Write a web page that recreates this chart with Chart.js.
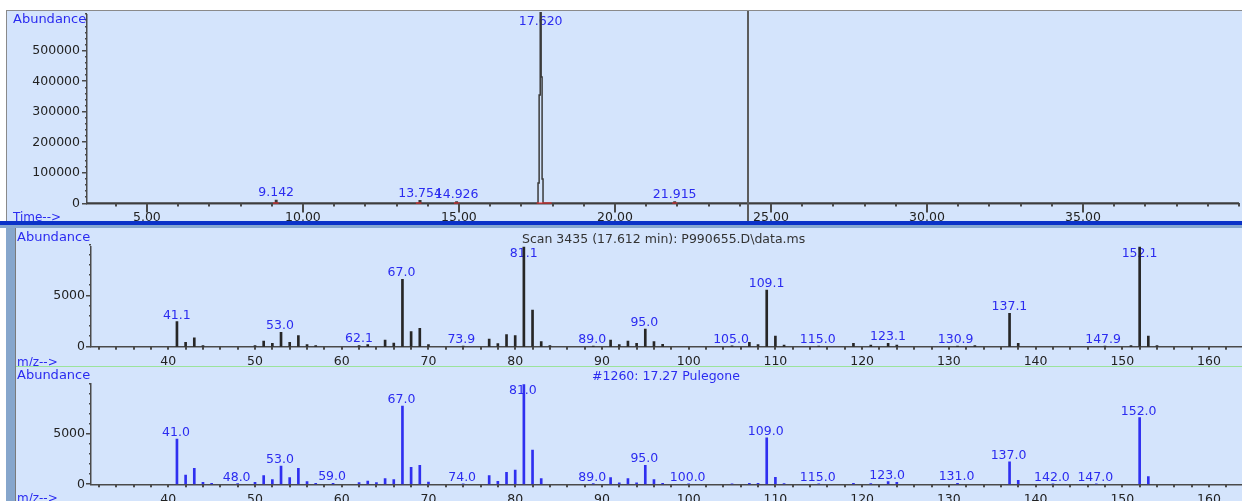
<!DOCTYPE html>
<html>
<head>
<meta charset="utf-8">
<script src="https://cdn.jsdelivr.net/npm/chart.js@4.4.1/dist/chart.umd.min.js"></script>
<style>
  body { margin: 0; width: 1242px; height: 501px; overflow: hidden; background: #fff; position: relative; font-family: "DejaVu Sans", sans-serif; }
  .panel { position: absolute; background: #d4e4fc; overflow: hidden; }
  .panel canvas { position: absolute; left: 0; top: 0; }
  .txt { position: absolute; white-space: nowrap; line-height: 1; color: #2b2bf0; font-size: 12px; }
  .abund { font-size: 13px; }
  #p1 { left: 6px; top: 10px; width: 1236px; height: 210px; border-top: 1px solid #8a8a8a; border-left: 1px solid #8a8a8a; }
  #bar1 { position: absolute; left: 0; top: 221px; width: 1242px; height: 4px; background: #0a32c8; }
  #bar2 { position: absolute; left: 0; top: 225px; width: 1242px; height: 3px; background: #86a8d0; }
  #strip { position: absolute; left: 6px; top: 228px; width: 9px; height: 273px; background: #86a6cc; border-right: 1px solid #7a7a7a; }
  #p2 { left: 16px; top: 228px; width: 1226px; height: 138px; }
  #green { position: absolute; left: 16px; top: 366px; width: 1226px; height: 1px; background: #9be39b; }
  #p3 { left: 16px; top: 367px; width: 1226px; height: 134px; }
</style>
</head>
<body>
<div class="panel" id="p1">
  <canvas id="tic" width="1235" height="210"></canvas>
  <div class="txt abund" style="left:6px;top:1px">Abundance</div>
  <div class="txt" style="left:6px;top:200px">Time--&gt;</div>
</div>
<div id="bar1"></div>
<div id="bar2"></div>
<div id="strip"></div>
<div class="panel" id="p2">
  <canvas id="scan" width="1226" height="138"></canvas>
  <div class="txt abund" style="left:1px;top:2px">Abundance</div>
  <div class="txt" style="left:1px;top:128px">m/z--&gt;</div>
  <div class="txt" style="left:506px;top:5px;color:#333;font-size:12.5px">Scan 3435 (17.612 min): P990655.D\data.ms</div>
</div>
<div id="green"></div>
<div class="panel" id="p3">
  <canvas id="lib" width="1226" height="134"></canvas>
  <div class="txt abund" style="left:1px;top:1px">Abundance</div>
  <div class="txt" style="left:1px;top:125px">m/z--&gt;</div>
  <div class="txt" style="left:576px;top:3px;font-size:12.5px">#1260: 17.27 Pulegone</div>
</div>

<script>
// chromatogram (TIC)
const ticTime  = [3.08, 9.04, 9.10, 9.142, 9.19, 13.70, 13.754, 13.80, 14.88, 14.926, 14.97, 17.52, 17.55, 17.59, 17.62, 17.65, 17.68, 17.71, 21.87, 21.915, 21.96, 40.0];
const ticAbund = [2000, 2000, 2000, 10000, 2000, 2000, 9000, 2000, 2000, 5000, 2000, 2000, 67000, 356000, 625000, 415000, 80000, 2000, 2000, 5000, 2000, 2000];
const ticPeakLabels = ["9.142", "13.754", "14.926", "17.620", "21.915"];
const ticIntStart = [9.04, 13.62, 14.84, 17.49, 21.84];
const ticIntEnd   = [9.22, 13.80, 15.02, 17.97, 22.00];
const ticCursor = 24.26;
const ticXTicks = [5, 10, 15, 20, 25, 30, 35];
const ticYTicks = [0, 100000, 200000, 300000, 400000, 500000];

// scan 3435 spectrum
const scanMz    = [41, 42, 43, 44, 50, 51, 52, 53, 54, 55, 56, 57, 62, 63, 65, 66, 67, 68, 69, 70, 74, 77, 78, 79, 80, 81, 82, 83, 84, 89, 91, 92, 93, 94, 95, 96, 97, 105, 107, 108, 109, 110, 111, 115, 119, 121, 123, 124, 131, 133, 137, 138, 148, 151, 152, 153, 154];
const scanAbund = [2450, 430, 880, 120, 100, 560, 330, 1410, 430, 1080, 200, 100, 120, 200, 660, 360, 6600, 1470, 1800, 200, 60, 750, 300, 1200, 1080, 9900, 3600, 490, 100, 60, 660, 200, 560, 330, 1730, 490, 230, 80, 430, 200, 5560, 1050, 150, 60, 330, 150, 330, 150, 60, 100, 3270, 330, 60, 100, 9900, 1050, 100];
const scanLabels = ["41.1", "53.0", "62.1", "67.0", "73.9", "81.1", "89.0", "95.0", "105.0", "109.1", "115.0", "123.1", "130.9", "137.1", "147.9", "152.1"];

// library hit #1260 Pulegone
const libMz    = [41, 42, 43, 44, 45, 48, 50, 51, 52, 53, 54, 55, 56, 57, 59, 62, 63, 64, 65, 66, 67, 68, 69, 70, 74, 77, 78, 79, 80, 81, 82, 83, 89, 91, 92, 93, 94, 95, 96, 97, 100, 105, 107, 108, 109, 110, 111, 115, 119, 121, 123, 124, 131, 137, 138, 142, 147, 152, 153];
const libAbund = [4500, 920, 1590, 200, 100, 60, 200, 860, 460, 1820, 660, 1590, 260, 100, 100, 170, 330, 170, 560, 460, 7800, 1690, 1900, 230, 50, 860, 300, 1190, 1420, 9950, 3410, 560, 60, 660, 150, 560, 150, 1890, 460, 100, 50, 50, 100, 100, 4630, 700, 80, 50, 100, 80, 270, 200, 100, 2250, 400, 50, 50, 6660, 770];
const libLabels = ["41.0", "48.0", "53.0", "59.0", "67.0", "74.0", "81.0", "89.0", "95.0", "100.0", "109.0", "115.0", "123.0", "131.0", "137.0", "142.0", "147.0", "152.0"];

const mzTicks = [40, 50, 60, 70, 80, 90, 100, 110, 120, 130, 140, 150, 160];
const msYTicks = [0, 5000];

const axisColor = '#4a4a4a';
const tickFont = { family: 'DejaVu Sans', size: 12.5 };
const blue = '#2b2bf0';

// per-canvas settings for the drawing plugin
const panelCfg = {
  tic:  { xStart: 4, xStep: 1, xMajor: ticXTicks, xMajorLen: 9, xMinorLen: 3, yStep: 20000, yMajor: ticYTicks,
          labels: ticPeakLabels, px: ticTime, py: ticAbund, tol: 0.02, gap: 4, dx: 0, color: blue, cursor: ticCursor },
  scan: { xStart: 32, xStep: 2, xMajor: mzTicks, xMajorLen: 3, xMinorLen: 3, yStep: 1000, yMajor: msYTicks,
          labels: scanLabels, px: scanMz, py: scanAbund, tol: 0.5, gap: 3, dx: -1, color: blue },
  lib:  { xStart: 32, xStep: 2, xMajor: mzTicks, xMajorLen: 3, xMinorLen: 3, yStep: 1000, yMajor: msYTicks,
          labels: libLabels, px: libMz, py: libAbund, tol: 0.5, gap: 3, dx: -1, color: blue }
};

const chemPlot = {
  id: 'chem',
  beforeDatasetsDraw(chart) {
    const c = panelCfg[chart.canvas.id];
    const { ctx, chartArea: a, scales: { x, y } } = chart;
    ctx.save();
    ctx.font = '12.5px "DejaVu Sans"';
    ctx.fillStyle = c.color;
    ctx.textAlign = 'center';
    ctx.textBaseline = 'alphabetic';
    c.labels.forEach(s => {
      const v = parseFloat(s);
      let best = -1, d = 1e9;
      c.px.forEach((p, i) => { if (Math.abs(p - v) < d) { d = Math.abs(p - v); best = i; } });
      const h = d <= c.tol ? c.py[best] : 0;
      const by = Math.max(y.getPixelForValue(h) - c.gap, a.top + 10);
      ctx.fillText(s, x.getPixelForValue(v) + c.dx, by);
    });
    ctx.restore();
  },
  afterDraw(chart) {
    const c = panelCfg[chart.canvas.id];
    const { ctx, chartArea: a, scales: { x, y } } = chart;
    ctx.save();
    ctx.fillStyle = axisColor;
    const nX = Math.round((x.max - c.xStart) / c.xStep);
    for (let i = 0; i <= nX; i++) {
      const v = c.xStart + i * c.xStep;
      if (v < x.min || v > x.max) continue;
      const len = c.xMajor.includes(v) ? c.xMajorLen : c.xMinorLen;
      ctx.fillRect(Math.round(x.getPixelForValue(v)) - 1, a.bottom, 2, len);
    }
    const nY = Math.round(y.max / c.yStep);
    for (let i = 0; i <= nY; i++) {
      const v = i * c.yStep;
      const len = c.yMajor.includes(v) ? 5 : 2;
      ctx.fillRect(a.left - len, Math.round(y.getPixelForValue(v)) - 1, len, 1.5);
    }
    if (c.cursor !== undefined) {
      ctx.fillStyle = '#5c5c5c';
      ctx.fillRect(Math.round(x.getPixelForValue(c.cursor)) - 1, 0, 2, chart.height);
    }
    ctx.restore();
  }
};

function xAxis(min, max, majors, height, fmt, pad) {
  return {
    type: 'linear', min: min, max: max, offset: false,
    afterBuildTicks: s => { s.ticks = majors.map(v => ({ value: v })); },
    afterFit: s => { s.height = height; s.paddingLeft = 0; s.paddingRight = 0; },
    grid: { display: false, drawTicks: false },
    border: { color: axisColor, width: 1.5 },
    ticks: { font: tickFont, color: '#222', padding: pad, maxRotation: 0, autoSkip: false, callback: fmt }
  };
}
function yAxis(max, majors, width, pad) {
  return {
    min: 0, max: max,
    afterBuildTicks: s => { s.ticks = majors.map(v => ({ value: v })); },
    afterFit: s => { s.width = width; s.paddingTop = 0; s.paddingBottom = 0; },
    grid: { display: false, drawTicks: false },
    border: { color: axisColor, width: 1.5 },
    ticks: { font: tickFont, color: '#222', padding: pad, callback: v => String(v) }
  };
}
const noPlugins = { legend: { display: false }, tooltip: { enabled: false } };

const redData = [];
ticIntStart.forEach((s, i) => { redData.push({ x: s, y: 0 }, { x: ticIntEnd[i], y: 0 }, { x: ticIntEnd[i], y: null }); });

new Chart(document.getElementById('tic'), {
  type: 'line',
  data: {
    datasets: [
      { data: redData, borderColor: '#ff2a2a', borderWidth: 2, pointRadius: 0, spanGaps: false },
      { data: ticTime.map((t, i) => ({ x: t, y: ticAbund[i] })), borderColor: '#3a3a3a', borderWidth: 1.5, pointRadius: 0, stepped: 'middle', clip: 4 }
    ]
  },
  options: {
    responsive: false, animation: false, events: [],
    layout: { padding: { left: 0, right: 3, top: 4, bottom: 0 } },
    plugins: noPlugins,
    scales: {
      x: xAxis(3.08, 40, ticXTicks, 17.5, v => v.toFixed(2), 7),
      y: yAxis(618000, ticYTicks, 80, 7)
    }
  },
  plugins: [chemPlot]
});

function msChart(id, mz, ab, color, ymax, top, xh) {
  new Chart(document.getElementById(id), {
    type: 'bar',
    data: { datasets: [{ data: mz.map((m, i) => ({ x: m, y: ab[i] })), backgroundColor: color, barThickness: 2, borderWidth: 0 }] },
    options: {
      responsive: false, animation: false, events: [],
      layout: { padding: { left: 0, right: 0, top: top, bottom: 0 } },
      plugins: noPlugins,
      scales: {
        x: xAxis(31.09, 163.8, mzTicks, xh, v => String(v), 8),
        y: yAxis(ymax, msYTicks, 75, 6)
      }
    },
    plugins: [chemPlot]
  });
}
msChart('scan', scanMz, scanAbund, '#262626', 9800, 18.7, 19.3);
msChart('lib', libMz, libAbund, '#2f2ff0', 10000, 17, 16.7);
</script>
</body>
</html>
